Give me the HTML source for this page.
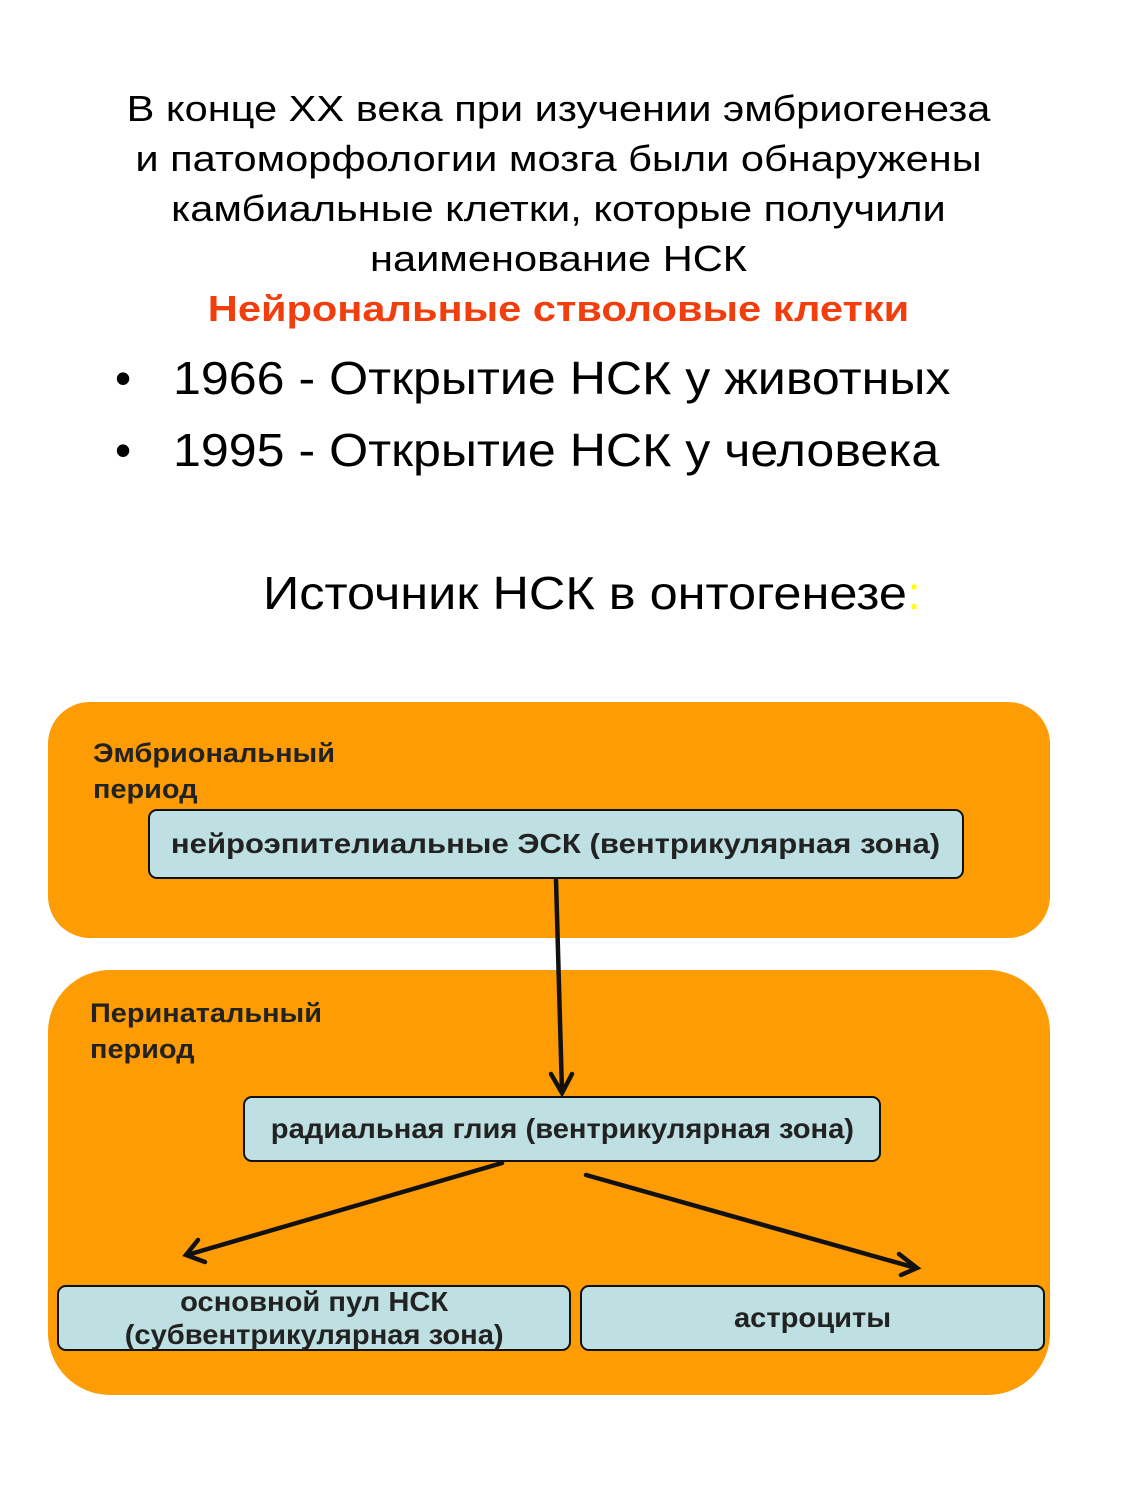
<!DOCTYPE html>
<html><head><meta charset="utf-8"><style>
body{margin:0;width:1125px;height:1500px;background:#fff;position:relative;font-family:"Liberation Sans",sans-serif;overflow:hidden}
.t{position:absolute;left:0;width:1125px;text-align:center;white-space:nowrap}
.a{position:absolute;white-space:nowrap}
.o{position:absolute;background:#fd9c04}
.n{position:absolute;background:#bfe0e2;border:2.5px solid #111;border-radius:9px;box-sizing:border-box;display:flex;align-items:center;justify-content:center;text-align:center;font-weight:bold;font-size:28px;line-height:34px;color:#222}
.n span{display:inline-block;transform:scaleX(1.04)}
.l{font-weight:bold;font-size:27px;line-height:36px;color:#222;transform:scaleX(1.07);transform-origin:0 0}
</style></head><body>
<div class="t" style="top:84px;font-size:36px;line-height:50px;left:-4px;transform:scaleX(1.155)">В конце XX века при изучении эмбриогенеза<br>и патоморфологии мозга были обнаружены<br>камбиальные клетки, которые получили<br>наименование НСК<br><b style="color:#f23d0c">Нейрональные стволовые клетки</b></div>
<div class="a" style="left:115px;top:350px;font-size:46px;line-height:56px">•</div>
<div class="a" style="left:173px;top:350px;font-size:46px;line-height:56px;transform:scaleX(1.09);transform-origin:0 0">1966 - Открытие НСК у животных</div>
<div class="a" style="left:115px;top:422px;font-size:46px;line-height:56px">•</div>
<div class="a" style="left:173px;top:422px;font-size:46px;line-height:56px;transform:scaleX(1.09);transform-origin:0 0">1995 - Открытие НСК у человека</div>
<div class="a" style="left:263px;top:565px;font-size:46px;line-height:56px;transform:scaleX(1.097);transform-origin:0 0">Источник НСК в онтогенезе<span style="color:#ff0">:</span></div>
<div class="o" style="left:48px;top:702px;width:1002px;height:236px;border-radius:42px"></div>
<div class="o" style="left:48px;top:970px;width:1002px;height:425px;border-radius:62px"></div>
<div class="a l" style="left:93px;top:735px">Эмбриональный<br>период</div>
<div class="a l" style="left:90px;top:995px">Перинатальный<br>период</div>
<div class="n" style="left:148px;top:809px;width:816px;height:70px"><span style="transform:scaleX(1.11)">нейроэпителиальные ЭСК (вентрикулярная зона)</span></div>
<div class="n" style="left:243px;top:1096px;width:638px;height:66px"><span>радиальная глия (вентрикулярная зона)</span></div>
<div class="n" style="left:57px;top:1285px;width:514px;height:66px;line-height:33px"><span>основной пул НСК<br>(субвентрикулярная зона)</span></div>
<div class="n" style="left:580px;top:1285px;width:465px;height:66px"><span>астроциты</span></div>
<svg width="1125" height="1500" style="position:absolute;left:0;top:0">
<g stroke="#111" stroke-width="4.5" fill="none" stroke-linecap="round">
<line x1="556" y1="880" x2="562" y2="1092"/>
<polyline points="551,1074 562,1093 572,1074"/>
<line x1="502" y1="1163" x2="187" y2="1255"/>
<polyline points="198,1240 186,1255 205,1262"/>
<line x1="586" y1="1175" x2="916" y2="1268"/>
<polyline points="899,1254 917,1268 901,1275"/>
</g></svg>
</body></html>
